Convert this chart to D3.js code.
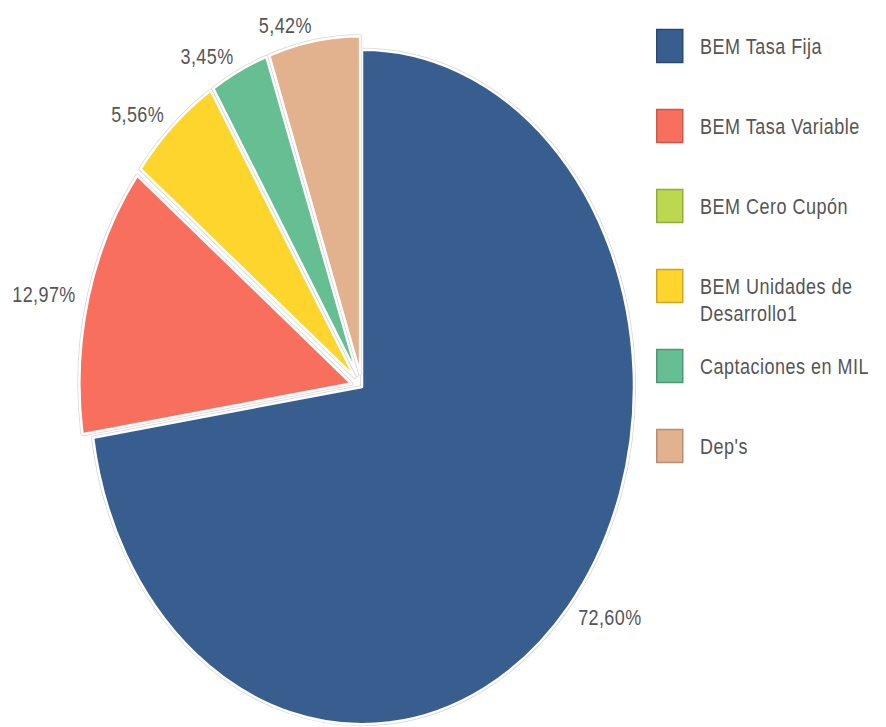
<!DOCTYPE html>
<html>
<head>
<meta charset="utf-8">
<script src="https://cdn.jsdelivr.net/npm/d3@7"></script>
<style>
  body { margin: 0; background: #fff; }
  text { font-family: "Liberation Sans", Arial, sans-serif; fill: #555; }
</style>
</head>
<body>
<svg width="886" height="727"></svg>
<script>

var categories = ["BEM Tasa Fija", "BEM Tasa Variable", "BEM Cero Cupón", "BEM Unidades de Desarrollo1", "Captaciones en MIL", "Dep's"];
var legendText = [["BEM Tasa Fija"], ["BEM Tasa Variable"], ["BEM Cero Cupón"], ["BEM Unidades de", "Desarrollo1"], ["Captaciones en MIL"], ["Dep's"]];
var values = [72.60, 12.97, 0, 5.56, 3.45, 5.42];
var colors = ["#375e8f", "#f96f5d", "#bbd84e", "#fdd52c", "#66be93", "#e2b28f"];
var borders = ["#2b4a70", "#c9594b", "#93ab3d", "#c9a823", "#509676", "#b48e72"];

var cx = 362, cy = 387, r = 272, sy = 1.24;
var explode = 11;

var svg = d3.select('svg');
var fmt = function(v){ return d3.format(".2f")(v).replace(".", ",") + "%"; };

var pie = d3.pie().sort(null).value(function(d){ return d.value; });
var arcs = pie(categories.map(function(c, i){ return {name: c, value: values[i], i: i}; }))
             .filter(function(d){ return d.data.value > 0; });

var arc = d3.arc().innerRadius(0).outerRadius(r);

var g = svg.append('g')
           .attr('transform', "translate(" + cx + "," + cy + ") scale(1," + sy + ")");

// offset for each slice (only the first one stays in place)
function off(d){ return d.data.i == 0 ? 0 : explode; }
function mid(d){ return (d.startAngle + d.endAngle) / 2; }

var slices = g.selectAll('g.slice')
              .data(arcs)
              .join('g')
                .classed('slice', true)
                .attr('transform', function(d){
                  var a = mid(d);
                  return "translate(" + (Math.sin(a) * off(d)) + "," + (-Math.cos(a) * off(d)) + ")";
                });

// light grey outline under a white edge
slices.append('path')
      .attr('d', arc)
      .attr('fill', 'none')
      .attr('stroke', '#d6d6d6')
      .attr('stroke-width', 4)
      .attr('stroke-linejoin', 'round')
      .attr('vector-effect', 'non-scaling-stroke');
slices.append('path')
      .attr('d', arc)
      .attr('fill', function(d){ return colors[d.data.i]; })
      .attr('stroke', '#fff')
      .attr('stroke-width', 2.5)
      .attr('stroke-linejoin', 'round')
      .attr('vector-effect', 'non-scaling-stroke');

// percentage labels
svg.append('g')
   .selectAll('text')
   .data(arcs)
   .join('text')
     .attr('transform', function(d){
       var a = mid(d);
       var lr = 285 + off(d);
       var x = cx + Math.sin(a) * lr;
       var y = cy - Math.cos(a) * lr * sy;
       return "translate(" + x + "," + y + ") scale(1,1.25)";
     })
     .attr('text-anchor', function(d){ return Math.sin(mid(d)) < 0 ? 'end' : 'start'; })
     .attr('dominant-baseline', 'central')
     .style('font-size', '18px')
     .style('letter-spacing', '0.4px')
     .text(function(d){ return fmt(d.data.value); });

// legend
var legend = svg.append('g')
                .selectAll('g')
                .data(categories)
                .join('g')
                  .attr('transform', function(d, i){ return "translate(656," + (46 + i * 80) + ")"; });

legend.append('rect')
      .attr('x', 0.75)
      .attr('y', -16.5)
      .attr('width', 26)
      .attr('height', 33)
      .attr('fill', function(d, i){ return colors[i]; })
      .attr('stroke', function(d, i){ return borders[i]; })
      .attr('stroke-width', 1.5);

legend.each(function(d, i){
  var el = d3.select(this);
  legendText[i].forEach(function(line, j){
    el.append('text')
      .attr('transform', "translate(44," + (j * 27) + ") scale(1,1.25)")
      .attr('dominant-baseline', 'central')
      .style('font-size', '18px')
      .style('letter-spacing', '0.5px')
      .text(line);
  });
});

</script>
</body>
</html>
